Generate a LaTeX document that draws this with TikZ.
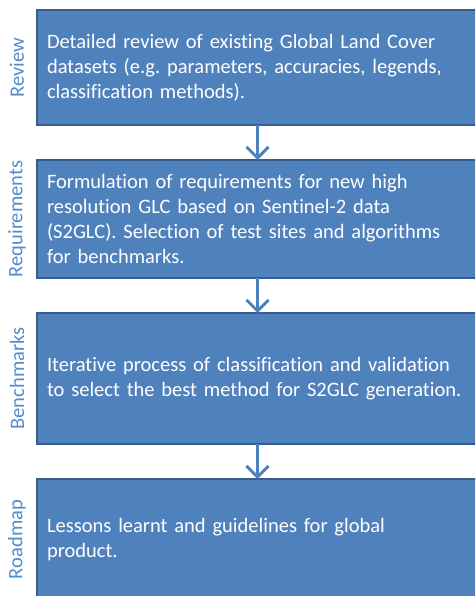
\documentclass[tikz,border=0pt]{standalone}
\usepackage{fontspec}
\setmainfont{Carlito}[Ligatures=NoCommon]
\usepackage{tikz}
\usetikzlibrary{arrows.meta,positioning}
\definecolor{boxblue}{RGB}{79, 129, 189}
\definecolor{boxedge}{RGB}{56, 93, 138}
\definecolor{labelblue}{RGB}{84, 138, 206}
\tikzstyle{stage} = [rectangle, draw=boxedge, line width=2.5pt, fill=boxblue, text=white, align=left, outer sep=0pt, minimum width=441pt, text width=421pt, inner xsep=10pt, font=\fontsize{20.5}{25}\selectfont]
\tikzstyle{sidelabel} = [draw=none, fill=none, text=labelblue, rotate=90, font=\fontsize{20.5}{24}\selectfont]
\tikzstyle{tedge}  = [draw=boxblue, line width=3pt, -{Straight Barb[length=11pt,width=22pt]}]

\begin{document}
\begin{tikzpicture}[x=1pt, y=1pt]
\clip (0,0) rectangle (475,-596);

% stages =============================
\node[stage, anchor=north, minimum height=115pt] (review) at (257.5,-10) {Detailed review of existing Global Land Cover\\datasets (e.g.\ parameters, accuracies, legends,\\classification methods).};
\node[stage, below=35pt of review, minimum height=118pt] (req) {Formulation of requirements for new high\\resolution GLC based on Sentinel-2 data\\(S2GLC). Selection of test sites and algorithms\\for benchmarks.};
\node[stage, below=35pt of req, minimum height=131pt] (bench) {Iterative process of classification and validation\\to select the best method for S2GLC generation.};
\node[stage, below=35pt of bench, minimum height=121pt] (road) {Lessons learnt and guidelines for global\\product.};

% side labels
\node[sidelabel] (reviewlbl) at ([xshift=-20pt]review.west) {Review};
\node[sidelabel] (reqlbl) at ([xshift=-20pt]req.west) {Requirements};
\node[sidelabel] (benchlbl) at ([xshift=-20pt]bench.west) {Benchmarks};
\node[sidelabel] (roadlbl) at ([xshift=-20pt]road.west) {Roadmap};

% edges
\path[tedge] (review) -- (req);
\path[tedge] (req) -- (bench);
\path[tedge] (bench) -- (road);

\end{tikzpicture}
\end{document}
